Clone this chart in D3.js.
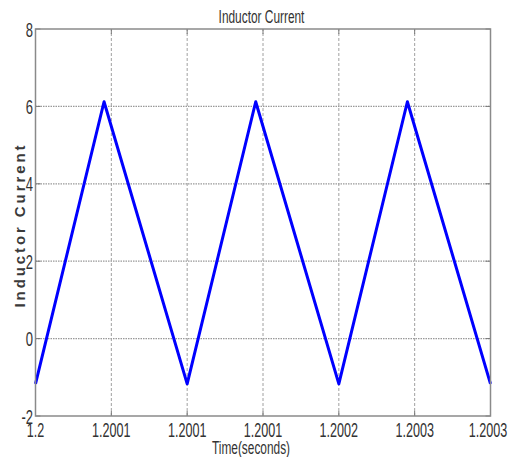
<!DOCTYPE html>
<html>
<head>
<meta charset="utf-8">
<script src="https://cdn.jsdelivr.net/npm/d3@7"></script>
<style>
  body { margin: 0; background: #fff; }
  .grid-h { stroke: #999; stroke-width: 1.3; stroke-dasharray: 1.5,1; }
  .grid-v { stroke: #a0a0a0; stroke-width: 1; stroke-dasharray: 3,2; }
  .frame { fill: none; stroke: #8a8a8a; stroke-width: 1.5; }
  .tick { stroke: #777; stroke-width: 1; }
  .narrow { font-family: "Liberation Sans Narrow", "Arial Narrow", "Liberation Sans", sans-serif; fill: #333; }
</style>
</head>
<body>
<svg id="chart" width="508" height="457"></svg>
<script>
// time (s) and current (A) at the corners of the triangle wave
const times = [1.2, 1.2000452, 1.2001, 1.2001452, 1.2002, 1.2002452, 1.2003];
const current = [-1.17, 6.12, -1.17, 6.12, -1.17, 6.12, -1.17];

const xTicks = [1.2, 1.20005, 1.2001, 1.20015, 1.2002, 1.20025, 1.2003];
const xTickLabels = ['1.2', '1.2001', '1.2001', '1.2001', '1.2002', '1.2003', '1.2003'];
const yTicks = [-2, 0, 2, 4, 6, 8];

const MARGIN = { TOP: 29, BOTTOM: 41, LEFT: 35.5, RIGHT: 17.5 };
const WIDTH = 508, HEIGHT = 457;

const svg = d3.select('#chart');

const x = d3.scaleLinear()
  .domain([1.2, 1.2003])
  .range([MARGIN.LEFT, WIDTH - MARGIN.RIGHT]);
const y = d3.scaleLinear()
  .domain([-2, 8])
  .range([HEIGHT - MARGIN.BOTTOM, MARGIN.TOP]);

// narrow text squeezed sideways, like the stretched original
function squeezed(px, py, txt, anchor, size, sx) {
  return svg.append('text')
    .attr('class', 'narrow')
    .attr('transform', `translate(${px},${py}) scale(${sx},1)`)
    .attr('text-anchor', anchor)
    .style('font-size', size + 'px')
    .text(txt);
}

// grid
svg.selectAll('.grid-h')
  .data(yTicks.filter(d => d > -2 && d < 8))
  .enter()
  .append('line')
  .attr('class', 'grid-h')
  .attr('x1', x.range()[0])
  .attr('x2', x.range()[1])
  .attr('y1', y)
  .attr('y2', y);
svg.selectAll('.grid-v')
  .data(xTicks.slice(1, -1))
  .enter()
  .append('line')
  .attr('class', 'grid-v')
  .attr('x1', x)
  .attr('x2', x)
  .attr('y1', y.range()[0])
  .attr('y2', y.range()[1]);

// inward tick marks on all four sides
xTicks.forEach(t => {
  svg.append('line').attr('class', 'tick')
    .attr('x1', x(t)).attr('x2', x(t))
    .attr('y1', y(-2)).attr('y2', y(-2) - 5);
  svg.append('line').attr('class', 'tick')
    .attr('x1', x(t)).attr('x2', x(t))
    .attr('y1', y(8)).attr('y2', y(8) + 5);
});
yTicks.forEach(t => {
  svg.append('line').attr('class', 'tick')
    .attr('x1', x(1.2)).attr('x2', x(1.2) + 5)
    .attr('y1', y(t)).attr('y2', y(t));
  svg.append('line').attr('class', 'tick')
    .attr('x1', x(1.2003)).attr('x2', x(1.2003) - 5)
    .attr('y1', y(t)).attr('y2', y(t));
});

// the waveform
const line = d3.line()
  .x((d, i) => x(times[i]))
  .y(d => y(d));
svg.append('path')
  .datum(current)
  .attr('d', line)
  .attr('fill', 'none')
  .attr('stroke', '#0000ff')
  .attr('stroke-width', 3)
  .attr('stroke-linejoin', 'round');

// frame
svg.append('rect')
  .attr('class', 'frame')
  .attr('x', x.range()[0])
  .attr('y', y.range()[1])
  .attr('width', x.range()[1] - x.range()[0])
  .attr('height', y.range()[0] - y.range()[1]);

// tick labels (last one kept inside the window)
xTicks.forEach((t, i) => {
  const px = Math.min(x(t), WIDTH - 20);
  squeezed(px, 437, xTickLabels[i], 'middle', 21, 0.6);
});
yTicks.forEach(t => squeezed(33, y(t) + 7.5, t, 'end', 21, 0.62));

// titles
squeezed(261.5, 23, 'Inductor Current', 'middle', 18, 0.66);
squeezed(251, 454, 'Time(seconds)', 'middle', 18, 0.66);

svg.append('text')
  .attr('transform', 'translate(24.5,226.5) rotate(-90)')
  .attr('text-anchor', 'middle')
  .attr('textLength', 162)
  .attr('lengthAdjust', 'spacing')
  .style('font-family', '"Liberation Sans", Arial, sans-serif')
  .style('font-weight', 'bold')
  .style('font-size', '15px')
  .style('fill', '#3a3a3a')
  .text('Inductor Current');
</script>
</body>
</html>
